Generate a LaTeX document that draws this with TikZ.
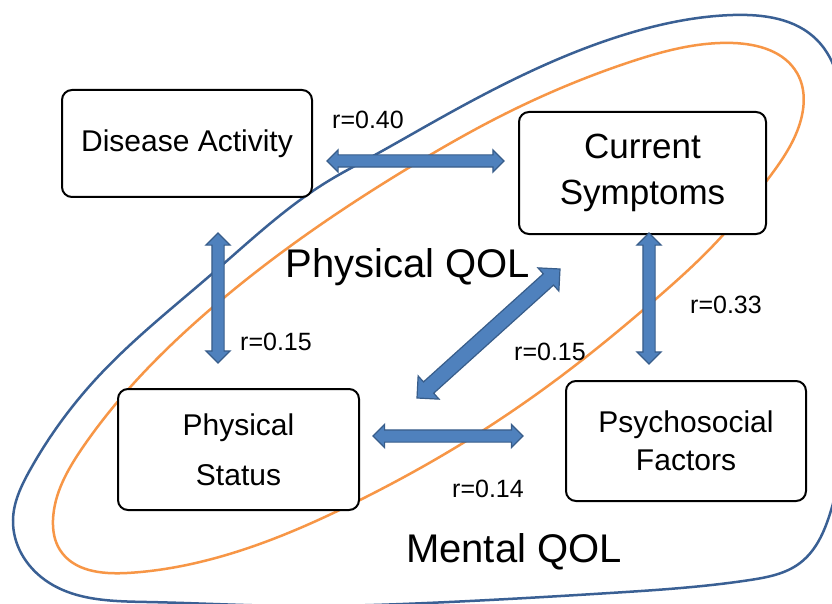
\documentclass[tikz,border=0pt]{standalone}
\usepackage{fontspec}
\setmainfont{Liberation Sans}
\usetikzlibrary{shapes.arrows,calc,hobby}
\definecolor{afill}{HTML}{4F81BD}
\definecolor{aborder}{HTML}{385D8A}
\definecolor{outerc}{HTML}{3A6094}
\definecolor{innerc}{HTML}{F79646}
\tikzset{
  box/.style={draw, line width=2pt, rounded corners=10pt, fill=white, align=center, inner sep=0pt},
  barrow/.style={double arrow, draw=aborder, fill=afill, line width=1.2pt},
  rlabel/.style={font=\fontsize{25}{30}\selectfont, inner sep=0pt},
  qol/.style={font=\fontsize{40}{48}\selectfont, inner sep=0pt},
  loopline/.style={line width=2.5pt, use Hobby shortcut, closed=true}
}
\newcommand\blockarrow[4]{%
  \path let \p1=($(#2)-(#1)$) in
    node[barrow, name=arr#1#2, inner sep=#3, double arrow head extend=#4,
         minimum height={veclen(\x1,\y1)}, rotate={atan2(\y1,\x1)}]
    at ($(#1)!0.5!(#2)$) {};}
\begin{document}
\begin{tikzpicture}[x=1pt,y=-1pt]
\useasboundingbox (0,0) rectangle (832,604);
\clip (0,0) rectangle (832,604);
\fill[white] (0,0) rectangle (832,604);

% outer (blue) loop
\draw[outerc, loopline] (147,602) .. (45,580) .. (13,520) .. (30,470) .. (95,380) .. (213,273) .. (330,180) .. (364,161) .. (437,120) .. (630,33) .. (733,15) .. (817,40) .. (845,120) .. (855,300) .. (832,507) .. (800,563) .. (750,580) .. (610,593) .. (427,603) .. (290,606);

% inner (orange) loop
\draw[innerc, loopline] (127,573) .. (60,550) .. (53,520) .. (83,447) .. (213,307) .. (420,161) .. (493,120) .. (630,62) .. (733,43) .. (797,73) .. (800,123) .. (765,183) .. (723,235) .. (657,298) .. (560,377) .. (463,443) .. (360,500) .. (200,562);

% boxes
\node[box, minimum width=250pt, minimum height=107pt, font=\fontsize{30}{36}\selectfont] (da) at (187,143.5) {Disease Activity};
\node[box, minimum width=247pt, minimum height=122pt, font=\fontsize{35}{46}\selectfont] (cs) at (642.5,173) {Current\\Symptoms};
\node[box, minimum width=241pt, minimum height=121pt, font=\fontsize{30}{50}\selectfont] (ps) at (238.5,449.5) {Physical\\Status};
\node[box, minimum width=240pt, minimum height=120pt, font=\fontsize{30}{38}\selectfont] (pf) at (686,441) {Psychosocial\\Factors};

% arrow end points
\coordinate (t1) at (327,161);  \coordinate (t2) at (504,161);
\coordinate (l1) at (218,233);  \coordinate (l2) at (218,363);
\coordinate (r1) at (649,233);  \coordinate (r2) at (649,364);
\coordinate (b1) at (373,436);  \coordinate (b2) at (523,436);
\coordinate (d1) at (417,398);  \coordinate (d2) at (560,269);

\blockarrow{t1}{t2}{5.5pt}{5pt}
\blockarrow{l1}{l2}{5.5pt}{6pt}
\blockarrow{r1}{r2}{5.5pt}{6pt}
\blockarrow{b1}{b2}{5.5pt}{5.5pt}
\blockarrow{d1}{d2}{7pt}{8pt}

% labels
\node[rlabel] (r40) at (368,120) {r=0.40};
\node[rlabel] (r15a) at (276,342) {r=0.15};
\node[rlabel] (r15b) at (550,352) {r=0.15};
\node[rlabel] (r33) at (726,305) {r=0.33};
\node[rlabel] (r14) at (488,489) {r=0.14};
\node[qol] (pq) at (408,267) {Physical QOL};
\node[qol] (mq) at (514,552) {Mental QOL};
\end{tikzpicture}
\end{document}
